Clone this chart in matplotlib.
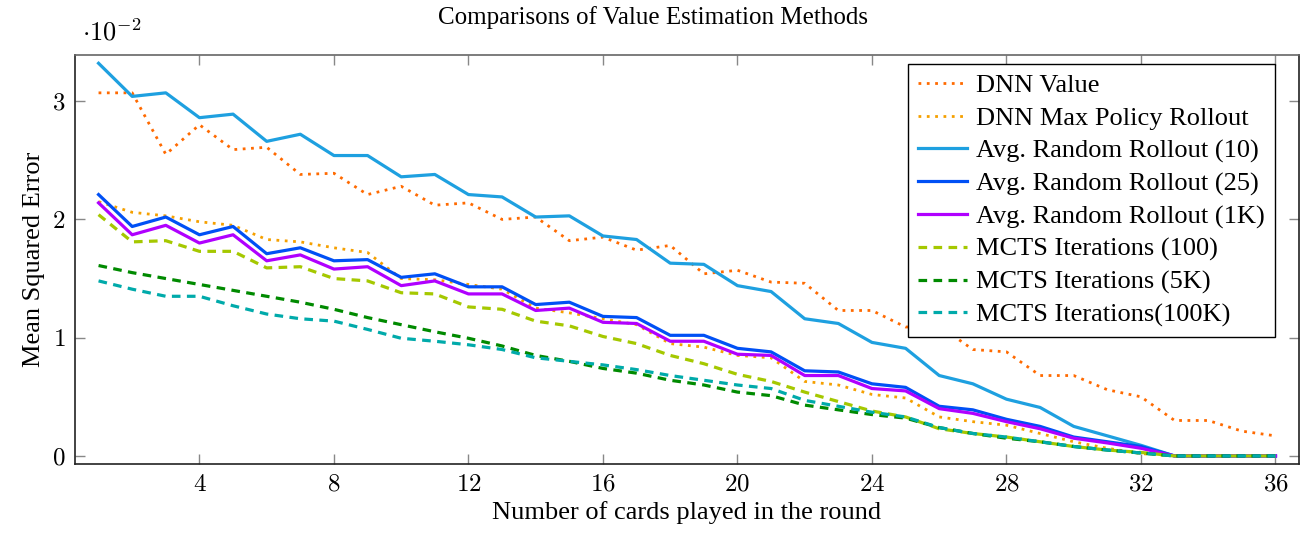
import matplotlib
matplotlib.use('Agg')
import matplotlib.pyplot as plt

plt.rcParams['font.family'] = ['Liberation Serif', 'DejaVu Serif']
plt.rcParams['mathtext.fontset'] = 'cm'

# number of cards played (x) and MSE values in units of 1e-2
cards = list(range(1, 37))

dnn_value = [3.07, 3.07, 2.55, 2.80, 2.59, 2.61, 2.38, 2.39, 2.21, 2.28, 2.12, 2.14,
             2.00, 2.02, 1.82, 1.85, 1.74, 1.78, 1.54, 1.57, 1.47, 1.46, 1.23, 1.23,
             1.09, 1.10, 0.90, 0.88, 0.68, 0.68, 0.56, 0.50, 0.30, 0.30, 0.21, 0.17]
dnn_max_policy = [2.15, 2.06, 2.03, 1.98, 1.95, 1.83, 1.81, 1.76, 1.72, 1.50, 1.49, 1.45,
                  1.41, 1.25, 1.21, 1.16, 1.11, 0.95, 0.92, 0.85, 0.83, 0.63, 0.60, 0.52,
                  0.49, 0.33, 0.29, 0.26, 0.19, 0.12, 0.065, 0.02, 0, 0, 0, 0]
rollout_10 = [3.32, 3.04, 3.07, 2.86, 2.89, 2.66, 2.72, 2.54, 2.54, 2.36, 2.38, 2.21,
              2.19, 2.02, 2.03, 1.86, 1.83, 1.63, 1.62, 1.44, 1.39, 1.16, 1.12, 0.96,
              0.91, 0.68, 0.61, 0.48, 0.41, 0.25, 0.17, 0.09, 0, 0, 0, 0]
rollout_25 = [2.21, 1.94, 2.02, 1.87, 1.94, 1.71, 1.76, 1.65, 1.66, 1.51, 1.54, 1.43,
              1.43, 1.28, 1.30, 1.18, 1.17, 1.02, 1.02, 0.91, 0.88, 0.72, 0.71, 0.61,
              0.58, 0.42, 0.39, 0.31, 0.25, 0.16, 0.12, 0.08, 0, 0, 0, 0]
rollout_1k = [2.14, 1.87, 1.95, 1.80, 1.87, 1.65, 1.70, 1.58, 1.60, 1.44, 1.48, 1.37,
              1.37, 1.23, 1.25, 1.13, 1.12, 0.97, 0.97, 0.86, 0.85, 0.68, 0.68, 0.57,
              0.55, 0.40, 0.36, 0.29, 0.23, 0.15, 0.11, 0.065, 0, 0, 0, 0]
mcts_100 = [2.04, 1.81, 1.82, 1.73, 1.73, 1.59, 1.60, 1.50, 1.48, 1.38, 1.37, 1.26,
            1.24, 1.14, 1.10, 1.01, 0.95, 0.85, 0.78, 0.69, 0.63, 0.54, 0.46, 0.38,
            0.33, 0.23, 0.19, 0.16, 0.12, 0.08, 0.05, 0.03, 0, 0, 0, 0]
mcts_5k = [1.61, 1.55, 1.50, 1.45, 1.40, 1.35, 1.30, 1.24, 1.17, 1.11, 1.05, 0.995,
           0.93, 0.85, 0.80, 0.74, 0.70, 0.64, 0.60, 0.54, 0.51, 0.43, 0.39, 0.35,
           0.32, 0.24, 0.19, 0.15, 0.12, 0.08, 0.05, 0.025, 0, 0, 0, 0]
mcts_100k = [1.48, 1.41, 1.35, 1.35, 1.27, 1.20, 1.16, 1.14, 1.07, 0.995, 0.97, 0.94,
             0.90, 0.83, 0.80, 0.77, 0.73, 0.68, 0.64, 0.60, 0.57, 0.47, 0.42, 0.37,
             0.33, 0.24, 0.19, 0.16, 0.12, 0.08, 0.05, 0.025, 0, 0, 0, 0]

xticks = [4, 8, 12, 16, 20, 24, 28, 32, 36]
yticks = [0, 1, 2, 3]

fig = plt.figure(figsize=(13.07, 5.35), dpi=100)
ax = fig.add_axes([0.0574, 0.1327, 0.9365, 0.7645])

dot = (0, (1, 2))
dash = (0, (2.7, 2))
ax.plot(cards, dnn_value, color='#ff6a00', lw=2, ls=dot, label='DNN Value')
ax.plot(cards, dnn_max_policy, color='#f5a000', lw=2, ls=dot, label='DNN Max Policy Rollout')
ax.plot(cards, rollout_10, color='#1ea0e0', lw=2.3, label='Avg. Random Rollout (10)')
ax.plot(cards, rollout_25, color='#0050f5', lw=2.3, label='Avg. Random Rollout (25)')
ax.plot(cards, rollout_1k, color='#b000ff', lw=2.3, label='Avg. Random Rollout (1K)')
ax.plot(cards, mcts_100, color='#a5c800', lw=2.3, ls=dash, label='MCTS Iterations (100)')
ax.plot(cards, mcts_5k, color='#008a00', lw=2.3, ls=dash, label='MCTS Iterations (5K)')
ax.plot(cards, mcts_100k, color='#00aaaa', lw=2.3, ls=dash, label='MCTS Iterations(100K)')

ax.set_xlim(0.3, 36.7)
ax.set_ylim(-0.068, 3.39)
ax.set_xticks(xticks, labels=[f'${t}$' for t in xticks])
ax.set_yticks(yticks, labels=[f'${t}$' for t in yticks])
ax.tick_params(direction='in', length=7, width=1, color='#888888', labelsize=18,
               top=True, right=True, pad=7)
for s in ax.spines.values():
    s.set_linewidth(1.2)
    s.set_color('#222222')
ax.spines['top'].set_color('#666666')

fig.text(0.5, 0.968, 'Comparisons of Value Estimation Methods', fontsize=18,
         ha='center', va='center')
ax.set_xlabel('Number of cards played in the round', fontsize=19, labelpad=4)
ax.set_ylabel('Mean Squared Error', fontsize=19, labelpad=5)
fig.text(0.063, 0.94, r'$\cdot 10^{-2}$', fontsize=19, ha='left', va='center')

leg = ax.legend(loc='upper right', bbox_to_anchor=(0.98, 0.978), borderaxespad=0,
                fontsize=19, frameon=True, fancybox=False, edgecolor='black',
                handlelength=1.85, handletextpad=0.35, labelspacing=0.34, borderpad=0.38)
leg.get_frame().set_linewidth(1.0)
leg.get_frame().set_alpha(1)

fig.savefig('out.png', dpi=100)
